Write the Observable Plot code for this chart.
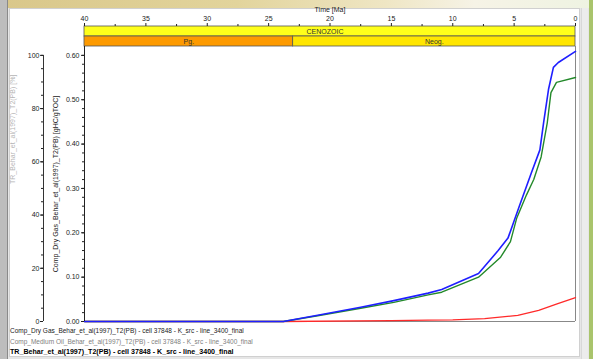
<!DOCTYPE html>
<html><head><meta charset="utf-8">
<script src="https://cdn.jsdelivr.net/npm/d3@7"></script>
<script src="https://cdn.jsdelivr.net/npm/@observablehq/plot@0.6"></script>
<style>
body{margin:0;width:593px;height:359px;position:relative;overflow:hidden;background:#e6e6e6;font-family:"Liberation Sans",Arial,sans-serif}
.abs{position:absolute}
#legend div{position:absolute;left:10px;white-space:nowrap;line-height:10px}
</style></head><body>
<div class="abs" style="left:0;top:0;width:593px;height:8px;background:linear-gradient(to right,#d9c78a 0%,#e2d49c 40%,#efe6c4 65%,#f6f3e6 80%,#eef3e2 100%)"></div>
<div class="abs" style="left:0;top:0;width:7px;height:359px;background:#bdbdbd;border-right:1px solid #8a8a8a"></div>
<div class="abs" style="left:9px;top:8px;width:569px;height:347px;background:#fff;border:1px solid #d0d0d0"></div>
<div class="abs" style="left:581px;top:8px;width:6px;height:351px;background:#ececec;border-left:1px solid #d8d8d8"></div>
<div class="abs" style="left:589px;top:0;width:4px;height:359px;background:#a9c46c"></div>
<div id="top" class="abs" style="left:0;top:0"></div>
<div id="main" class="abs" style="left:0;top:46px"></div>
<div id="left" class="abs" style="left:0;top:46px"></div>
<div id="legend"></div>
<script>
// ---- data ----
const ageTicks = [40, 35, 30, 25, 20, 15, 10, 5, 0];
const ageMinor = [37.5, 32.5, 27.5, 22.5, 17.5, 12.5, 7.5, 2.5];
const eraNames = ["CENOZOIC"];
const eraStart = [40];
const eraEnd = [0];
const periodNames = ["Pg.", "Neog."];
const periodStart = [40, 23];
const periodEnd = [23, 0];

const gasAge = [40, 23.8, 21, 17.5, 14.8, 12, 10.9, 7.9, 6.3, 5.5, 4.6, 3.6, 2.9, 2.6, 2.2, 1.8, 1.4, 0];
const gasVal = [0, 0, 0.014, 0.032, 0.047, 0.064, 0.072, 0.108, 0.16, 0.188, 0.258, 0.335, 0.387, 0.448, 0.523, 0.573, 0.584, 0.609];

const oilAge = [40, 23.8, 21, 17.5, 14.8, 12, 10.9, 7.9, 6.1, 5.3, 4.8, 4.0, 3.4, 2.8, 2.3, 2.0, 1.55, 0];
const oilVal = [0, 0, 0.013, 0.030, 0.043, 0.060, 0.066, 0.100, 0.145, 0.18, 0.232, 0.285, 0.32, 0.371, 0.448, 0.516, 0.539, 0.55];

const trAge = [40, 23.8, 15, 12, 10, 7.4, 4.7, 3.0, 1.5, 0];
const trVal = [0, 0, 0.3, 0.5, 0.6, 1.1, 2.3, 4.2, 6.6, 9.0]; // percent

const rightTicks = [0, 0.1, 0.2, 0.3, 0.4, 0.5, 0.6];
const leftTicks = [0, 20, 40, 60, 80, 100];

const legendTexts = [
  "Comp_Dry Gas_Behar_et_al(1997)_T2(PB) - cell 37848 - K_src - line_3400_final",
  "Comp_Medium Oil_Behar_et_al(1997)_T2(PB) - cell 37848 - K_src - line_3400_final",
  "TR_Behar_et_al(1997)_T2(PB) - cell 37848 - K_src - line_3400_final"
];
const rightLabel = "Comp_Dry Gas_Behar_et_al(1997)_T2(PB) [gHC/gTOC]";
const leftLabel = "TR_Behar_et_al(1997)_T2(PB) [%]";
const timeLabel = "Time [Ma]";

// ---- styles ----
const bandColor = {"CENOZOIC": "#ffff1a", "Pg.": "#fd9a00", "Neog.": "#ffe600"};
const legendStyle = [
  {color: "#222", weight: "normal", size: "6.5px"},
  {color: "#808080", weight: "normal", size: "6.5px"},
  {color: "#000", weight: "bold", size: "7.1px"}
];
const W = 593, ML = 84, MR = 18;
const rightMax = 0.6, leftMax = 100;
const yTop = 0.62;
const font = {fontSize: "7px", fontFamily: "Liberation Sans, Arial, sans-serif", background: "transparent", color: "#222", overflow: "visible"};

const eras = eraNames.map((n, i) => ({name: n, start: eraStart[i], end: eraEnd[i]}));
const periods = periodNames.map((n, i) => ({name: n, start: periodStart[i], end: periodEnd[i]}));
const gas = gasAge.map((t, i) => ({t, v: gasVal[i]}));
const oil = oilAge.map((t, i) => ({t, v: oilVal[i]}));
const tr = trAge.map((t, i) => ({t, v: trVal[i]}));

const topPlot = Plot.plot({
  width: W, height: 46, marginLeft: ML, marginRight: MR, marginTop: 25, marginBottom: 0,
  style: font,
  x: {domain: [40, 0]},
  y: {type: "band", domain: ["era", "period"], padding: 0, axis: null},
  marks: [
    Plot.barX(eras, {x1: "start", x2: "end", y: () => "era", fill: d => bandColor[d.name], stroke: "#555", strokeWidth: 0.8}),
    Plot.barX(periods, {x1: "start", x2: "end", y: () => "period", fill: d => bandColor[d.name], stroke: "#555", strokeWidth: 0.8}),
    Plot.text(eras, {x: d => (d.start + d.end) / 2, y: () => "era", text: "name", fill: "#333", dx: -5}),
    Plot.text(periods, {x: d => (d.start + d.end) / 2, y: () => "period", text: "name", fill: "#333"}),
    Plot.axisX({anchor: "top", ticks: ageTicks, tickSize: 3, tickPadding: 2, label: timeLabel, labelAnchor: "center", labelOffset: 18, labelArrow: "none"}),
    Plot.axisX({anchor: "top", ticks: ageMinor, tickSize: 2, tickFormat: () => "", label: null})
  ]
});
document.getElementById("top").append(topPlot);

const mainPlot = Plot.plot({
  width: W, height: 278, marginLeft: ML, marginRight: MR, marginTop: 0, marginBottom: 3,
  style: font,
  x: {domain: [40, 0], axis: null},
  y: {domain: [0, yTop]},
  marks: [
    Plot.ruleY([0], {stroke: "#888"}),
    Plot.ruleX([0], {stroke: "#888"}),
    Plot.line(tr, {x: "t", y: d => d.v / leftMax * rightMax, stroke: "#ff2a2a", strokeWidth: 1.3}),
    Plot.line(oil, {x: "t", y: "v", stroke: "#23892a", strokeWidth: 1.4}),
    Plot.line(gas, {x: "t", y: "v", stroke: "#1f1fff", strokeWidth: 1.6}),
    Plot.ruleX([40], {stroke: "#222"}),
    Plot.axisY({ticks: rightTicks, tickFormat: ".2f", tickSize: 3, tickPadding: 2, label: rightLabel, labelAnchor: "center", labelOffset: 31, labelArrow: "none"}),
    Plot.axisY({ticks: d3.range(0, 0.61, 0.02), tickSize: 2, tickFormat: () => "", label: null})
  ]
});
document.getElementById("main").append(mainPlot);

const leftPlot = Plot.plot({
  width: 84, height: 278, marginLeft: 43, marginRight: 0, marginTop: 0, marginBottom: 3,
  style: font,
  x: {domain: [0, 1], axis: null},
  y: {domain: [0, leftMax * yTop / rightMax]},
  marks: [
    Plot.ruleX([0], {y1: 0, y2: leftMax, stroke: "#333"}),
    Plot.axisY({ticks: leftTicks, tickSize: 3, tickPadding: 1, label: null}),
    Plot.axisY({ticks: d3.range(0, 101, 5), tickSize: 2, tickFormat: () => "", label: null}),
    Plot.text([leftLabel], {text: d => d, frameAnchor: "left", rotate: -90, dx: -31, fill: "#b5b5b5"})
  ]
});
document.getElementById("left").append(leftPlot);

const lg = document.getElementById("legend");
legendTexts.forEach((t, i) => {
  const d = document.createElement("div");
  d.textContent = t;
  d.style.top = (326 + i * 10.5) + "px";
  d.style.color = legendStyle[i].color;
  d.style.fontWeight = legendStyle[i].weight;
  d.style.fontSize = legendStyle[i].size;
  lg.append(d);
});
</script>
</body></html>
